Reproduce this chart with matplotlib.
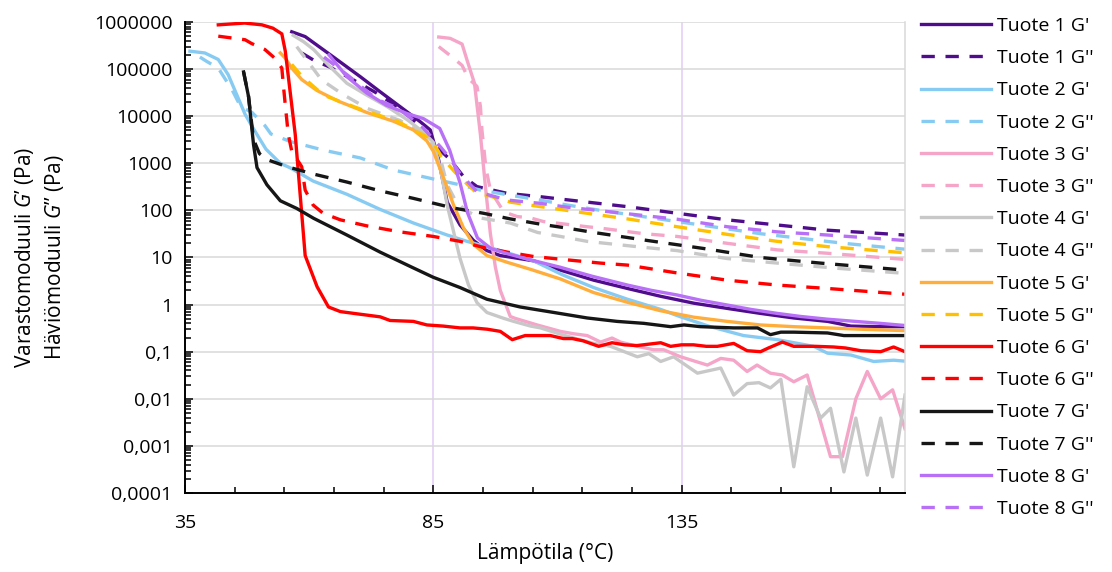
import matplotlib
matplotlib.use("Agg")
import matplotlib.pyplot as plt
from matplotlib.ticker import LogLocator, NullFormatter

plt.rcParams["font.family"] = ["Open Sans", "DejaVu Sans"]
plt.rcParams["mathtext.fontset"] = "custom"
plt.rcParams["mathtext.rm"] = "Open Sans"
plt.rcParams["mathtext.it"] = "Open Sans:italic"

# --- data (temperature in °C, modulus in Pa) ---
t1_g1 = [56.5, 59.2, 64.9, 70.3, 74.3, 78.3, 82.4, 84.4, 86.0, 87.8, 90.4, 93.1, 95.8, 98.5,
         105.2, 110.6, 117.3, 124.1, 130.8, 137.5, 144.2, 150.9, 157.6, 164.4, 169.1, 174.5, 180.0]
v1_g1 = [6.2e5, 4.9e5, 1.8e5, 6.9e4, 3.3e4, 1.6e4, 7.6e3, 5.1e3, 1.3e3, 150, 49, 23, 14, 11,
         8.5, 5.4, 3.3, 2.2, 1.5, 1.07, 0.83, 0.65, 0.52, 0.44, 0.35, 0.34, 0.34]
t1_g2 = [58.5, 60.9, 64.2, 68.9, 73.6, 77.7, 81.0, 83.7, 85.7, 88.4, 91.1, 93.8, 99.9, 106.6,
         116.0, 124.1, 134.1, 144.2, 154.3, 164.4, 180.0]
v1_g2 = [2.2e5, 1.55e5, 1.1e5, 5.9e4, 3.1e4, 1.6e4, 8.3e3, 4.4e3, 2.2e3, 1.2e3, 520, 320, 230, 195,
         150, 120, 87, 63, 49, 38, 30]

t2_g1 = [36.0, 39.0, 41.7, 43.7, 45.4, 47.1, 48.7, 51.3, 54.2, 56.2, 60.8, 67.6, 74.3, 81.0, 87.8,
         91.8, 98.5, 105.2, 111.0, 117.3, 124.1, 130.8, 134.8, 140.8, 147.5, 154.3, 161.6, 164.4,
         169.1, 173.7, 177.7, 180.0]
v2_g1 = [2.4e5, 2.2e5, 1.6e5, 7.6e4, 2.9e4, 1.1e4, 5.6e3, 2.0e3, 1.0e3, 800, 420, 220, 105, 54, 30,
         22, 14, 8.5, 4.3, 2.3, 1.3, 0.79, 0.55, 0.34, 0.22, 0.18, 0.13, 0.093,
         0.085, 0.062, 0.066, 0.063]
t2_g2 = [38.0, 39.4, 41.7, 44.5, 46.2, 48.5, 51.1, 52.3, 56.2, 62.9, 70.3, 77.0, 84.4, 89.8, 94.5,
         100.5, 106.6, 112.0, 118.7, 134.1, 150.9, 167.7, 180.0]
v2_g2 = [1.8e5, 1.45e5, 1.05e5, 3.6e4, 1.6e4, 1.2e4, 6.3e3, 4.2e3, 2.9e3, 1.9e3, 1.3e3, 720, 480, 360,
         270, 210, 165, 130, 100, 58, 32, 20, 15]

t3_g1 = [86.1, 88.4, 90.8, 91.8, 93.3, 94.5, 95.5, 96.5, 97.5, 98.5, 100.5, 101.5, 105.9, 110.6,
         113.3, 116.0, 118.7, 121.0, 122.7, 126.1, 129.4, 131.4, 134.8, 140.2, 142.9, 145.5, 148.2,
         150.2, 152.9, 155.3, 157.6, 160.3, 165.0, 167.4, 170.1, 172.4, 175.1, 177.5, 180.0]
v3_g1 = [4.8e5, 4.5e5, 3.4e5, 1.55e5, 5.0e4, 4.0e3, 320, 32, 6.3, 2.0, 0.56, 0.51, 0.37, 0.27,
         0.24, 0.22, 0.16, 0.195, 0.16, 0.13, 0.11, 0.11, 0.078, 0.052, 0.072, 0.066, 0.038,
         0.052, 0.035, 0.032, 0.023, 0.032, 0.00059, 0.00059, 0.010, 0.038, 0.010, 0.0155, 0.0023]
t3_g2 = [86.1, 88.8, 90.8, 92.1, 93.8, 94.5, 94.8, 95.5, 95.8, 96.5, 97.5, 99.2, 101.9, 104.6,
         107.2, 116.0, 118.7, 127.4, 134.1, 144.2, 154.3, 164.4, 180.0]
v3_g2 = [3.0e5, 1.8e5, 1.2e5, 6.3e4, 4.3e4, 1.6e4, 5.1e3, 1.0e3, 620, 270, 180, 93, 74, 69,
         58, 45, 42, 32, 28, 20, 14.5, 12.3, 9.1]

t4_g1 = [56.8, 58.9, 60.9, 63.6, 67.6, 71.6, 75.7, 79.7, 83.0, 85.0, 86.4, 87.8, 89.1, 90.4, 92.1,
         93.8, 95.8, 99.2, 101.2, 104.6, 106.6, 111.5, 117.3, 120.7, 126.1, 128.4, 130.8, 133.4,
         138.2, 142.9, 145.5, 148.2, 150.6, 152.9, 155.0, 157.6, 160.3, 163.0, 165.0, 167.7, 170.1,
         172.4, 175.1, 177.5, 180.0]
v4_g1 = [5.2e5, 3.8e5, 2.6e5, 1.3e5, 5.0e4, 2.8e4, 1.6e4, 8.5e3, 4.6e3, 2.8e3, 800, 130, 35, 9.5, 2.6,
         1.1, 0.68, 0.51, 0.44, 0.35, 0.32, 0.22, 0.15, 0.13, 0.078, 0.091, 0.062, 0.078,
         0.035, 0.045, 0.012, 0.021, 0.022, 0.017, 0.026, 0.00036, 0.018, 0.0039, 0.0063, 0.00028,
         0.0039, 0.00024, 0.0039, 0.00022, 0.012]
t4_g2 = [57.5, 62.5, 66.8, 71.8, 78.3, 82.4, 84.6, 86.4, 87.8, 89.5, 91.5, 94.5, 100.5, 106.0,
         110.6, 116.0, 126.0, 134.1, 144.2, 154.3, 166.4, 180.0]
v4_g2 = [3.0e5, 5.9e4, 2.9e4, 1.45e4, 8.1e3, 4.6e3, 2.5e3, 1.3e3, 350, 160, 100, 69, 54, 34,
         28, 22, 17, 14, 9.5, 7.6, 5.9, 4.6]

t5_g1 = [54.2, 55.2, 56.5, 58.5, 61.6, 65.8, 71.6, 77.0, 81.0, 83.7, 85.0, 87.1, 89.1, 91.1, 93.1,
         95.8, 99.9, 104.6, 110.6, 117.3, 124.1, 130.8, 137.5, 144.2, 150.9, 157.6, 164.4, 171.1,
         180.0]
v5_g1 = [2.2e5, 1.7e5, 1.05e5, 6.0e4, 3.5e4, 2.1e4, 1.2e4, 7.8e3, 5.1e3, 3.0e3, 1.8e3, 480, 129, 42,
         19, 11, 7.9, 5.6, 3.5, 1.8, 1.12, 0.74, 0.54, 0.44, 0.37, 0.34, 0.32, 0.30, 0.28]
t5_g2 = [56.5, 58.5, 62.9, 66.5, 71.6, 77.7, 81.2, 84.1, 85.9, 86.6, 89.3, 90.6, 93.8, 95.8, 100.5,
         106.6, 117.3, 124.1, 134.1, 144.2, 154.3, 164.4, 180.0]
v5_g2 = [1.26e5, 7.1e4, 2.8e4, 2.0e4, 1.26e4, 7.9e3, 5.0e3, 3.5e3, 1.9e3, 1.4e3, 660, 480, 230, 210,
         150, 120, 83, 66, 45, 31, 22, 17, 12.6]

t6_g1 = [41.7, 47.0, 50.5, 52.7, 54.5, 55.2, 57.2, 59.2, 61.6, 63.9, 66.3, 70.0, 74.3, 76.3, 81.0,
         83.7, 87.0, 90.4, 93.0, 95.9, 98.5, 100.9, 103.5, 106.0, 108.6, 111.2, 113.0, 115.2, 118.3,
         121.0, 123.5, 126.0, 128.5, 130.8, 132.8, 135.0, 137.4, 140.0, 142.2, 145.5, 148.2, 150.9,
         152.5, 155.3, 157.6, 160.0, 162.0, 165.6, 168.0, 171.1, 175.1, 177.7, 180.0]
v6_g1 = [8.7e5, 9.5e5, 8.7e5, 7.4e5, 5.6e5, 2.4e5, 4.1e3, 11, 2.4, 0.89, 0.71, 0.63, 0.55, 0.46,
         0.44, 0.37, 0.35, 0.32, 0.32, 0.30, 0.27, 0.18, 0.22, 0.22, 0.22, 0.19, 0.19, 0.17, 0.13,
         0.155, 0.14, 0.135, 0.145, 0.155, 0.13, 0.14, 0.14, 0.13, 0.13, 0.15, 0.105, 0.10,
         0.12, 0.16, 0.13, 0.13, 0.13, 0.126, 0.12, 0.105, 0.10, 0.126, 0.10]
t6_g2 = [41.7, 47.1, 48.4, 51.1, 53.1, 54.5, 54.8, 55.2, 55.8, 56.5, 58.5, 59.2, 60.8, 62.8, 66.3,
         71.6, 78.3, 85.0, 90.4, 94.5, 99.9, 105.2, 112.0, 118.7, 124.1, 134.1, 144.2, 154.3, 164.4,
         180.0]
v6_g2 = [5.0e5, 4.2e5, 3.5e5, 2.6e5, 1.7e5, 1.05e5, 4.7e4, 1.7e4, 4.1e3, 1.8e3, 850, 270, 130, 87,
         63, 47, 35, 28, 22, 17, 13, 10.5, 8.9, 7.6, 6.9, 4.7, 3.3, 2.6, 2.2, 1.66]

t7_g1 = [46.8, 47.8, 48.8, 49.5, 51.5, 54.2, 57.5, 60.9, 67.6, 74.3, 81.0, 85.0, 90.4, 95.8, 102.5,
         109.3, 116.0, 122.0, 127.4, 132.8, 135.5, 138.8, 145.5, 150.3, 152.9, 155.0, 157.6, 164.4,
         167.7, 175.1, 180.0]
v7_g1 = [8.7e4, 2.6e4, 2.5e3, 810, 350, 160, 110, 68, 30, 13, 6.0, 3.8, 2.3, 1.3, 0.89,
         0.68, 0.52, 0.44, 0.40, 0.34, 0.37, 0.34, 0.32, 0.32, 0.23, 0.26, 0.26, 0.25,
         0.22, 0.22, 0.22]
t7_g2 = [46.8, 47.8, 48.8, 50.0, 51.5, 55.5, 60.9, 67.6, 74.3, 81.0, 89.1, 95.1, 100.5, 106.6,
         112.0, 117.3, 128.1, 139.5, 150.9, 163.0, 180.0]
v7_g2 = [8.7e4, 2.6e4, 3.2e3, 1.6e3, 1.2e3, 850, 590, 400, 260, 180, 112, 87, 66, 51,
         42, 34, 23, 15.5, 10, 7.6, 5.4]

t8_g1 = [64.0, 67.6, 71.6, 75.6, 79.6, 83.0, 86.3, 88.3, 90.4, 91.9, 93.9, 96.6, 100.0, 104.6,
         110.6, 117.0, 124.1, 129.0, 134.1, 139.0, 144.2, 149.0, 154.3, 159.0, 164.4, 170.0, 175.0,
         180.0]
v8_g1 = [2.0e5, 6.9e4, 3.1e4, 1.7e4, 1.15e4, 8.9e3, 5.5e3, 1.9e3, 380, 89, 26, 15.5, 12, 8.9,
         6.2, 4.0, 2.6, 2.0, 1.6, 1.23, 0.98, 0.79, 0.65, 0.56, 0.49, 0.44, 0.40, 0.36]
t8_g2 = [63.0, 68.0, 73.6, 77.7, 80.0, 83.0, 86.5, 88.4, 90.4, 93.8, 99.9, 106.6, 112.0, 118.0,
         134.1, 144.2, 154.3, 164.4, 180.0]
v8_g2 = [1.8e5, 7.1e4, 2.3e4, 1.5e4, 1.0e4, 5.6e3, 2.2e3, 1.26e3, 600, 250, 166, 141, 117, 100,
         65, 45, 35, 30, 23]

ytick_values = [1e6, 1e5, 1e4, 1e3, 1e2, 1e1, 1, 1e-1, 1e-2, 1e-3, 1e-4]
ytick_labels = ["1000000", "100000", "10000", "1000", "100", "10", "1",
                "0,1", "0,01", "0,001", "0,0001"]
xtick_values = [35, 85, 135]

series = [
    ("Tuote 1 G'", t1_g1, v1_g1, "#4F0D8C", "-"),
    ("Tuote 1 G''", t1_g2, v1_g2, "#4F0D8C", "--"),
    ("Tuote 2 G'", t2_g1, v2_g1, "#88CBF2", "-"),
    ("Tuote 2 G''", t2_g2, v2_g2, "#88CBF2", "--"),
    ("Tuote 3 G'", t3_g1, v3_g1, "#F5A5C8", "-"),
    ("Tuote 3 G''", t3_g2, v3_g2, "#F5A5C8", "--"),
    ("Tuote 4 G'", t4_g1, v4_g1, "#C8C8C8", "-"),
    ("Tuote 4 G''", t4_g2, v4_g2, "#C8C8C8", "--"),
    ("Tuote 5 G'", t5_g1, v5_g1, "#FFAE3C", "-"),
    ("Tuote 5 G''", t5_g2, v5_g2, "#FFC000", "--"),
    ("Tuote 6 G'", t6_g1, v6_g1, "#FF0000", "-"),
    ("Tuote 6 G''", t6_g2, v6_g2, "#FF0000", "--"),
    ("Tuote 7 G'", t7_g1, v7_g1, "#161616", "-"),
    ("Tuote 7 G''", t7_g2, v7_g2, "#161616", "--"),
    ("Tuote 8 G'", t8_g1, v8_g1, "#B870F7", "-"),
    ("Tuote 8 G''", t8_g2, v8_g2, "#B870F7", "--"),
]

W, H = 1112, 572
fig = plt.figure(figsize=(W / 100, H / 100), dpi=100)
ax = fig.add_axes([185 / W, 1 - 493 / H, 720 / W, 471 / H])

for label, t, v, color, ls in series:
    kw = dict(color=color, lw=2.4, label=label, solid_joinstyle="round",
              dash_joinstyle="round", dash_capstyle="butt")
    if ls == "--":
        kw["dashes"] = (4.0, 3.2)
    ax.plot(t, v, **kw)

ax.set_yscale("log")
ax.set_ylim(1e-4, 1e6)
ax.set_xlim(35, 180)

ax.set_yticks(ytick_values)
ax.set_yticklabels(ytick_labels)
ax.yaxis.set_minor_locator(LogLocator(base=10, subs=range(2, 10), numticks=20))
ax.yaxis.set_minor_formatter(NullFormatter())
ax.set_xticks(xtick_values)
ax.set_xticks(range(45, 180, 10), minor=True)

ax.set_axisbelow(True)
ax.yaxis.grid(True, which="major", color="#D9D9D9", lw=1.1)
ax.xaxis.grid(True, which="major", color="#E3CBF7", lw=1.1)

ax.tick_params(axis="both", which="both", direction="in", width=1.1, labelsize=14,
               colors="black")
ax.tick_params(axis="both", which="major", length=6)
ax.tick_params(axis="both", which="minor", length=4)
ax.tick_params(axis="y", which="major", pad=9)
ax.tick_params(axis="x", which="major", pad=15)

for side in ("left", "bottom"):
    ax.spines[side].set_color("black")
    ax.spines[side].set_linewidth(1.4)
ax.spines["top"].set_visible(False)
ax.spines["right"].set_color("#D9D9D9")
ax.spines["right"].set_linewidth(1.1)

fig.text(545 / W, 1 - 554 / H, "Lämpötila (°C)", fontsize=15, ha="center", va="center")
fig.text(25 / W, 1 - 257 / H, "Varastomoduuli $G$’ (Pa)", fontsize=15,
         rotation=90, ha="center", va="center")
fig.text(55 / W, 1 - 257 / H, "Häviömoduuli $G$’’ (Pa)", fontsize=15,
         rotation=90, ha="center", va="center")

ax.legend(loc="upper left", bbox_to_anchor=(921 / W, 1 - 17 / H),
          bbox_transform=fig.transFigure, frameon=False, fontsize=14,
          handlelength=3.6, handletextpad=0.3, labelspacing=0.73,
          borderpad=0, borderaxespad=0)

fig.savefig("out.png", dpi=100)
